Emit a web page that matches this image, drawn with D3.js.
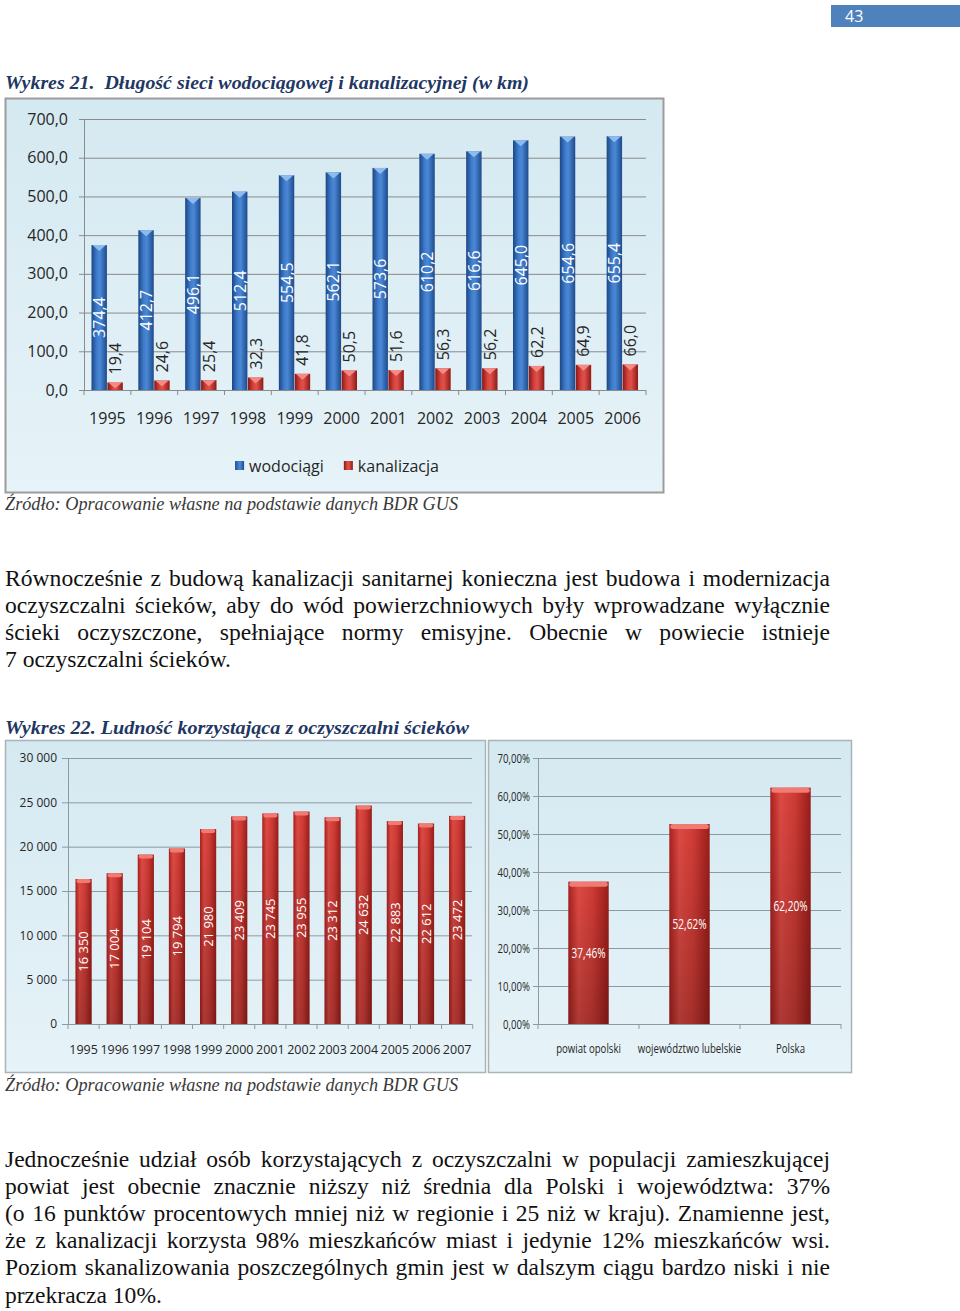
<!DOCTYPE html>
<html><head><meta charset="utf-8">
<script src="https://cdn.jsdelivr.net/npm/d3@7"></script>
<style>body{margin:0;background:#fff}svg{display:block}</style>
</head><body>
<svg id="page" width="960" height="1311"></svg>
<script>
// ---------------- DATA ----------------
const pageNumber = "43";
const title1 = "Wykres 21.  Długość sieci wodociągowej i kanalizacyjnej (w km)";
const title2 = "Wykres 22. Ludność korzystająca z oczyszczalni ścieków";
const sourceText = "Źródło: Opracowanie własne na podstawie danych BDR GUS";

const years1 = ["1995","1996","1997","1998","1999","2000","2001","2002","2003","2004","2005","2006"];
const seriesNames1 = ["wodociągi","kanalizacja"];
const wodociagi = [374.4,412.7,496.1,512.4,554.5,562.1,573.6,610.2,616.6,645.0,654.6,655.4];
const kanalizacja = [19.4,24.6,25.4,32.3,41.8,50.5,51.6,56.3,56.2,62.2,64.9,66.0];
const yTicks1 = [0,100,200,300,400,500,600,700];

const years2 = ["1995","1996","1997","1998","1999","2000","2001","2002","2003","2004","2005","2006","2007"];
const ludnosc = [16350,17004,19104,19794,21980,23409,23745,23955,23312,24632,22883,22612,23472];
const yTicks2 = [0,5000,10000,15000,20000,25000,30000];

const regions = ["powiat opolski","województwo lubelskie","Polska"];
const udzial = [37.46,52.62,62.20];
const yTicks3 = [0,10,20,30,40,50,60,70];

const para1 = [
  "Równocześnie z budową kanalizacji sanitarnej konieczna jest budowa i modernizacja",
  "oczyszczalni ścieków, aby do wód powierzchniowych były wprowadzane wyłącznie",
  "ścieki oczyszczone, spełniające normy emisyjne. Obecnie w powiecie istnieje",
  "7 oczyszczalni ścieków."
];
const para2 = [
  "Jednocześnie udział osób korzystających z oczyszczalni w populacji zamieszkującej",
  "powiat jest obecnie znacznie niższy niż średnia dla Polski i województwa: 37%",
  "(o 16 punktów procentowych mniej niż w regionie i 25 niż w kraju). Znamienne jest,",
  "że z kanalizacji korzysta 98% mieszkańców miast i jedynie 12% mieszkańców wsi.",
  "Poziom skanalizowania poszczególnych gmin jest w dalszym ciągu bardzo niski i nie",
  "przekracza 10%."
];

// ---------------- SETUP ----------------
const locale = d3.formatLocale({decimal:",", thousands:"\u00a0", grouping:[3], currency:["","\u00a0zł"]});
const fmt1 = locale.format(".1f");
const fmt2 = locale.format(",d");
const fmt3 = d => locale.format(".2f")(d) + "%";

const svg = d3.select("#page");
svg.append("rect").attr("width",960).attr("height",1311).attr("fill","#fff");
const defs = svg.append("defs");
function grad(id, stops, vertical){
  const g = defs.append("linearGradient").attr("id",id)
    .attr("x1",0).attr("y1",0).attr("x2",vertical?0:1).attr("y2",vertical?1:0);
  stops.forEach(([o,c,op])=>g.append("stop").attr("offset",o).attr("stop-color",c).attr("stop-opacity",op==null?1:op));
}
grad("blueBar",[[0,"#1b4684"],[0.35,"#3f7ccb"],[0.55,"#4a88d6"],[1,"#1d4a8c"]]);
grad("redBar",[[0,"#8a1714"],[0.35,"#d8443e"],[0.55,"#e0504a"],[1,"#8e1a17"]]);
grad("redBar2",[[0,"#a8201d"],[0.25,"#de4a44"],[0.6,"#cf3b35"],[1,"#9a1d1a"]]);
grad("shadeV",[[0,"#000",0],[1,"#000",0.22]],true);
grad("bg",[[0,"#d5e9f1"],[1,"#e6f3f8"]],true);

const FONT = "'Open Sans', sans-serif";
const SERIF = "'Liberation Serif', 'Times New Roman', serif";

// page number
svg.append("rect").attr("x",831).attr("y",5).attr("width",129).attr("height",22).attr("fill","#4f81bd");
svg.append("text").attr("x",845).attr("y",22).attr("font-family",FONT).attr("font-size",16)
  .attr("fill","#fff").text(pageNumber);

function fitText(x, y, str, width, opts){
  const t = svg.append("text").attr("x",x).attr("y",y).attr("font-family",SERIF)
    .attr("font-size",opts.size).attr("fill",opts.fill)
    .attr("font-style",opts.italic?"italic":null).attr("font-weight",opts.bold?"bold":null)
    .style("white-space","pre").text(str);
  t.attr("textLength",width).attr("lengthAdjust","spacingAndGlyphs");
  return t;
}
fitText(5, 89, title1, 524, {size:19, fill:"#1f3763", italic:true, bold:true});
fitText(5, 734, title2, 464, {size:19, fill:"#1f3763", italic:true, bold:true});
fitText(5, 510, sourceText, 453, {size:19.5, fill:"#3a3a3a", italic:true});
fitText(5, 1091, sourceText, 453, {size:19.5, fill:"#3a3a3a", italic:true});

// paragraphs (justified, slightly condensed glyphs)
function paragraph(lines, x, y0, lh, right, lastWidth){
  const size = 23.5;
  const probe = svg.append("text").attr("font-family",SERIF).attr("font-size",size).text(lines[lines.length-1]);
  const sx = lastWidth / probe.node().getComputedTextLength();
  probe.remove();
  lines.forEach((ln,i)=>{
    const t = svg.append("text").attr("x",0).attr("y",0)
      .attr("transform",`translate(${x},${y0+i*lh}) scale(${sx},1)`)
      .attr("font-family",SERIF).attr("font-size",size).attr("fill","#111").text(ln);
    if(i<lines.length-1){
      const w = t.node().getComputedTextLength();
      const n = (ln.match(/ /g)||[]).length;
      t.style("word-spacing", (((right-x)/sx)-w)/n + "px");
    }
  });
}
paragraph(para1, 5, 586, 27, 830, 226);
paragraph(para2, 5, 1167, 27.1, 830, 157);

// ---------------- CHART 1 ----------------
{
  const g = svg.append("g");
  g.append("rect").attr("x",5.5).attr("y",98.5).attr("width",658).attr("height",394)
    .attr("fill","url(#bg)").attr("stroke","#9c9c9c").attr("stroke-width",2);
  const x0 = d3.scaleBand().domain(years1).range([84,646]).paddingInner(0.32).paddingOuter(0.16);
  const x1 = d3.scaleBand().domain(seriesNames1).range([0,x0.bandwidth()]);
  const y = d3.scaleLinear().domain([0,700]).range([390,119]);
  const color = d3.scaleOrdinal().domain(seriesNames1).range(["url(#blueBar)","url(#redBar)"]);
  const capColor = d3.scaleOrdinal().domain(seriesNames1).range(["#8dbbee","#f38a84"]);

  g.append("g").selectAll("line").data(yTicks1).join("line")
    .attr("x1",79).attr("x2",646).attr("y1",d=>y(d)+0.5).attr("y2",d=>y(d)+0.5)
    .attr("stroke","#8b8b8b").attr("stroke-width",1);
  g.append("line").attr("x1",84.5).attr("x2",84.5).attr("y1",y(700)).attr("y2",y(0)).attr("stroke","#8b8b8b");
  const half = x0.step()*x0.paddingInner()/2;
  const bounds = years1.map(d=>x0(d)-half).concat([x0(years1[years1.length-1])+x0.bandwidth()+half]);
  g.append("g").selectAll("line").data(bounds).join("line")
    .attr("x1",d=>d).attr("x2",d=>d).attr("y1",y(0)).attr("y2",y(0)+5).attr("stroke","#8b8b8b");

  const ya = g.append("g").attr("transform","translate(84,0)")
    .call(d3.axisLeft(y).tickValues(yTicks1).tickFormat(fmt1).tickSize(0).tickPadding(16));
  ya.select(".domain").remove();
  ya.selectAll("text").attr("font-family",FONT).attr("font-size",16).attr("fill","#262626");

  const xa = g.append("g").attr("transform",`translate(0,${y(0)})`)
    .call(d3.axisBottom(x0).tickSize(0).tickPadding(23));
  xa.select(".domain").remove();
  xa.selectAll("text").attr("font-family",FONT).attr("font-size",16).attr("fill","#262626");

  const rows = years1.map((yr,i)=>({year:yr, vals:[{k:seriesNames1[0],v:wodociagi[i]},{k:seriesNames1[1],v:kanalizacja[i]}]}));
  const grp = g.append("g").selectAll("g").data(rows).join("g")
    .attr("transform",d=>`translate(${x0(d.year)},0)`);
  const bar = grp.selectAll("g").data(d=>d.vals).join("g");
  bar.append("rect").attr("x",d=>x1(d.k)).attr("width",x1.bandwidth()-0.5)
    .attr("y",d=>y(d.v)).attr("height",d=>y(0)-y(d.v)).attr("fill",d=>color(d.k));
  bar.append("path").attr("d",d=>{
      const xl=x1(d.k)+1, xr=x1(d.k)+x1.bandwidth()-1.5, t=y(d.v);
      return `M${xl},${t} L${xr},${t} L${(xl+xr)/2},${t+6} Z`;
    }).attr("fill",d=>capColor(d.k));
  bar.filter(d=>d.k===seriesNames1[0]).append("text")
    .attr("transform",d=>`translate(${x1(d.k)+x1.bandwidth()/2},${(y(d.v)+y(0))/2}) rotate(-90)`)
    .attr("text-anchor","middle").attr("dy","0.36em")
    .attr("font-family",FONT).attr("font-size",16).attr("fill","#fff").text(d=>fmt1(d.v));
  bar.filter(d=>d.k===seriesNames1[1]).append("text")
    .attr("transform",d=>`translate(${x1(d.k)+x1.bandwidth()/2},${y(d.v)-8}) rotate(-90)`)
    .attr("text-anchor","start").attr("dy","0.36em")
    .attr("font-family",FONT).attr("font-size",16).attr("fill","#262626").text(d=>fmt1(d.v));

  // legend
  const lg = g.append("g");
  let lx = 0;
  seriesNames1.forEach((s,i)=>{
    const it = lg.append("g").attr("transform",`translate(${lx},0)`);
    it.append("rect").attr("x",0).attr("y",-5).attr("width",9).attr("height",9).attr("fill",color(s));
    const t = it.append("text").attr("x",14).attr("dy","0.36em").attr("font-family",FONT)
      .attr("font-size",16).attr("fill","#262626").text(s);
    lx += 14 + t.node().getComputedTextLength() + 20;
  });
  const lw = lx - 20;
  lg.attr("transform",`translate(${337 - lw/2},466)`);
}

// ---------------- CHART 2 (left) ----------------
{
  const g = svg.append("g");
  g.append("rect").attr("x",5.5).attr("y",740.5).attr("width",480).attr("height",332)
    .attr("fill","url(#bg)").attr("stroke","#a9b4b9").attr("stroke-width",1.5);
  const x = d3.scaleBand().domain(years2).range([68,472.7]).paddingInner(0.48).paddingOuter(0.24);
  const y = d3.scaleLinear().domain([0,30000]).range([1024,758]);
  g.append("g").selectAll("line").data(yTicks2).join("line")
    .attr("x1",62).attr("x2",472).attr("y1",d=>y(d)+0.5).attr("y2",d=>y(d)+0.5)
    .attr("stroke","#8e9aa0");
  g.append("line").attr("x1",68.5).attr("x2",68.5).attr("y1",y(30000)).attr("y2",y(0)).attr("stroke","#8e9aa0");
  const half = x.step()*x.paddingInner()/2;
  const bounds = years2.map(d=>x(d)-half).concat([x(years2[years2.length-1])+x.bandwidth()+half]);
  g.append("g").selectAll("line").data(bounds).join("line")
    .attr("x1",d=>d).attr("x2",d=>d).attr("y1",y(0)).attr("y2",y(0)+5).attr("stroke","#8e9aa0");

  const ya = g.append("g").attr("transform","translate(68,0)")
    .call(d3.axisLeft(y).tickValues(yTicks2).tickFormat(fmt2).tickSize(0).tickPadding(11));
  ya.select(".domain").remove();
  ya.selectAll("text").attr("font-family",FONT).attr("font-size",12).attr("fill","#262626");
  const xa = g.append("g").attr("transform",`translate(0,${y(0)})`)
    .call(d3.axisBottom(x).tickSize(0).tickPadding(21));
  xa.select(".domain").remove();
  xa.selectAll("text").attr("font-family",FONT).attr("font-size",12.5).attr("fill","#262626");

  const rows = years2.map((yr,i)=>({year:yr, v:ludnosc[i]}));
  const b = g.append("g").selectAll("g").data(rows).join("g");
  b.append("rect").attr("x",d=>x(d.year)).attr("width",x.bandwidth()).attr("y",d=>y(d.v))
    .attr("height",d=>y(0)-y(d.v)).attr("fill","url(#redBar2)");
  b.append("rect").attr("x",d=>x(d.year)).attr("width",x.bandwidth()).attr("y",d=>y(d.v))
    .attr("height",d=>y(0)-y(d.v)).attr("fill","url(#shadeV)");
  b.append("rect").attr("x",d=>x(d.year)+1).attr("width",x.bandwidth()-2).attr("y",d=>y(d.v))
    .attr("height",4).attr("rx",2).attr("fill","#f17a72");
  b.append("text")
    .attr("transform",d=>`translate(${x(d.year)+x.bandwidth()/2},${(y(d.v)+y(0))/2}) rotate(-90)`)
    .attr("text-anchor","middle").attr("dy","0.36em").attr("font-family",FONT)
    .attr("font-size",13).attr("fill","#fff").text(d=>fmt2(d.v));
}

// ---------------- CHART 2 (right) ----------------
{
  const g = svg.append("g");
  const SX = 0.74;
  g.append("rect").attr("x",488.5).attr("y",740.5).attr("width",363).attr("height",332)
    .attr("fill","url(#bg)").attr("stroke","#a9b4b9").attr("stroke-width",1.5);
  const x = d3.scaleBand().domain(regions).range([538,841]).paddingInner(0.6).paddingOuter(0.3);
  const y = d3.scaleLinear().domain([0,70]).range([1024,758]);
  g.append("g").selectAll("line").data(yTicks3).join("line")
    .attr("x1",533).attr("x2",841).attr("y1",d=>y(d)+0.5).attr("y2",d=>y(d)+0.5)
    .attr("stroke","#8e9aa0");
  g.append("line").attr("x1",538.5).attr("x2",538.5).attr("y1",y(70)).attr("y2",y(0)).attr("stroke","#8e9aa0");
  const half = x.step()*x.paddingInner()/2;
  const bounds = regions.map(d=>x(d)-half).concat([x(regions[regions.length-1])+x.bandwidth()+half]);
  g.append("g").selectAll("line").data(bounds).join("line")
    .attr("x1",d=>d).attr("x2",d=>d).attr("y1",y(0)).attr("y2",y(0)+5).attr("stroke","#8e9aa0");

  const ya = g.append("g").attr("transform","translate(538,0)")
    .call(d3.axisLeft(y).tickValues(yTicks3).tickFormat(fmt3).tickSize(0).tickPadding(8));
  ya.select(".domain").remove();
  ya.selectAll("text").attr("font-family",FONT).attr("font-size",13).attr("fill","#262626")
    .each(function(){ const t=d3.select(this); const tx=+t.attr("x"); t.attr("x",0).attr("transform",`translate(${tx},0) scale(${SX},1)`); });
  const xa = g.append("g").attr("transform",`translate(0,${y(0)})`)
    .call(d3.axisBottom(x).tickSize(0).tickPadding(20));
  xa.select(".domain").remove();
  xa.selectAll("text").attr("font-family",FONT).attr("font-size",13).attr("fill","#262626")
    .attr("transform",`scale(${SX},1)`);

  const rows = regions.map((r,i)=>({r, v:udzial[i]}));
  const b = g.append("g").selectAll("g").data(rows).join("g");
  b.append("rect").attr("x",d=>x(d.r)).attr("width",x.bandwidth()).attr("y",d=>y(d.v))
    .attr("height",d=>y(0)-y(d.v)).attr("fill","url(#redBar2)");
  b.append("rect").attr("x",d=>x(d.r)).attr("width",x.bandwidth()).attr("y",d=>y(d.v))
    .attr("height",d=>y(0)-y(d.v)).attr("fill","url(#shadeV)");
  b.append("rect").attr("x",d=>x(d.r)+1).attr("width",x.bandwidth()-2).attr("y",d=>y(d.v))
    .attr("height",5).attr("rx",2.5).attr("fill","#f17a72");
  b.append("text")
    .attr("transform",d=>`translate(${x(d.r)+x.bandwidth()/2},${(y(d.v)+y(0))/2}) scale(0.72,1)`)
    .attr("text-anchor","middle").attr("dy","0.36em").attr("font-family",FONT)
    .attr("font-size",14).attr("fill","#fff").text(d=>fmt3(d.v));
}
</script>
</body></html>
